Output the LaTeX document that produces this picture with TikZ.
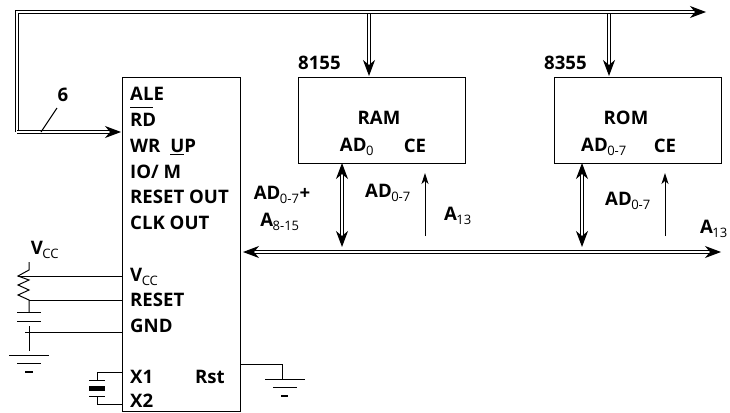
\documentclass[tikz,border=0pt]{standalone}
\usepackage{fontspec}
\setmainfont{Open Sans}
\usepackage{tikz}
\usetikzlibrary{arrows.meta,positioning,calc}
\newcommand{\barover}[1]{\smash{\rlap{\rule[19pt]{23pt}{1pt}}}#1}
\newcommand{\sub}[1]{\textsubscript{\mdseries\kern-0.5pt#1}}
\tikzset{
  lbl/.style={inner sep=0pt,font=\fontsize{18.6}{20}\selectfont\bfseries},
  chip/.style={draw,line width=1.1pt,anchor=north west,inner sep=0pt},
  bus/.style={double,double distance=1.1pt,line width=1.1pt,{-{Stealth[length=16pt,width=12pt,inset=5pt]}},shorten >=-1pt},
  bibus/.style={double,double distance=1.1pt,line width=1.1pt,{{Stealth[length=16pt,width=12pt,inset=5pt]}-{Stealth[length=16pt,width=12pt,inset=5pt]}}},
  wire/.style={line width=1pt},
  sig/.style={line width=1pt,-{Stealth[length=11pt,width=7pt,inset=3pt]}}
}
\begin{document}
\begin{tikzpicture}[x=1pt,y=-1pt]
\useasboundingbox (0,0) rectangle (730,412);
% boxes
\node[chip,minimum width=118pt,minimum height=334pt] (mpu) at (122,77) {};
\node[chip,minimum width=167pt,minimum height=86pt] (ram) at (298,77) {};
\node[chip,minimum width=167pt,minimum height=86pt] (rom) at (554,77) {};
% chip pins
\foreach \name/\y/\txt in {ale/94/ALE,rd/120/\barover{RD},wr/147/{WR\ \kern5pt\underline{U}P},io/172/{IO/ M},rout/197/RESET OUT,clk/223/CLK OUT,vcc/277/{V\sub{CC}},rst/300/RESET,gnd/326/GND,xa/377/X1,xb/401/X2}
  \node[lbl,anchor=west] (\name) at (130,\y) {\txt};
\node[lbl,anchor=east] (rstr) at (225,377) {Rst};
\node[lbl] (ramt) at (379,118) {RAM};
\node[lbl] (ramad) at (357,147) {AD\sub{0}};
\node[lbl] (ramce) at (415,146) {CE};
\node[lbl] (romt) at (626,118) {ROM};
\node[lbl] (romad) at (604,147) {AD\sub{0-7}};
\node[lbl] (romce) at (665,146) {CE};
\node[lbl,anchor=west] (n8155) at (298,63) {8155};
\node[lbl,anchor=west] (n8355) at (544,63) {8355};
\node[lbl] (lada) at (282,195) {AD\sub{0-7}+};
\node[lbl] (laa) at (280,222) {A\sub{8-15}};
\node[lbl] (ladb) at (388,193) {AD\sub{0-7}};
\node[lbl] (lab) at (458,216) {A\sub{13}};
\node[lbl] (ladc) at (628,201) {AD\sub{0-7}};
\node[lbl] (lac) at (714,229) {A\sub{13}};
\node[lbl] (lsix) at (63,95) {6};
\node[lbl] (lvcc) at (45,250) {V\sub{CC}};
% buses
\coordinate (tl) at (17,12);
\coordinate (tr) at (705,12);
\coordinate (ml) at (17,132);
\coordinate (ramtap) at (369,12);
\coordinate (romtap) at (609,12);
\coordinate (bl) at (243,252);
\coordinate (br) at (721,252);
\draw[bus] (ramtap) -- (369,75);
\draw[bus] (romtap) -- (609,75);
\draw[bus] (ml) -| (tl) -- (tr);
\draw[bus] (ml) -- (120,132);
\draw[bibus] (bl) -- (br);
\draw[bibus] (342,163) -- (342,247);
\draw[bibus] (582,163) -- (582,247);
\draw[sig] (425,236) -- (425,173);
\draw[sig] (665,236) -- (665,173);
\draw[wire] (41,132) -- (57,108);
% reset network
\draw[wire] (29,262) -- (29,270) -- (18,276) -- (29,280) -- (18,285) -- (29,290) -- (18,295) -- (29,300) -- (29,312);
\draw[wire] (18,276) -- (122,276);
\draw[wire] (29,300) -- (122,300);
\draw[wire] (17,312) -- (41,312);
\draw[wire] (17,321) -- (41,321);
\draw[wire] (29,326) -- (29,351);
\draw[wire] (25,332) -- (122,332);
\draw[wire] (9,355) -- (49,355);
\draw[wire] (17,363) -- (41,363);
\draw[line width=1.5pt] (25,372) -- (33,372);
% crystal
\draw[wire] (122,372) -| (97,380);
\draw[wire] (122,404) -| (97,396);
\draw[wire] (89,380) -- (105,380);
\draw[wire] (89,396) -- (105,396);
\fill (89,386) rectangle (105,391);
% rst ground
\draw[wire] (240,364) -| (282,379);
\draw[wire] (265,379) -- (305,379);
\draw[wire] (273,387) -- (297,387);
\draw[line width=1.5pt] (281,396) -- (288,396);
\end{tikzpicture}
\end{document}
